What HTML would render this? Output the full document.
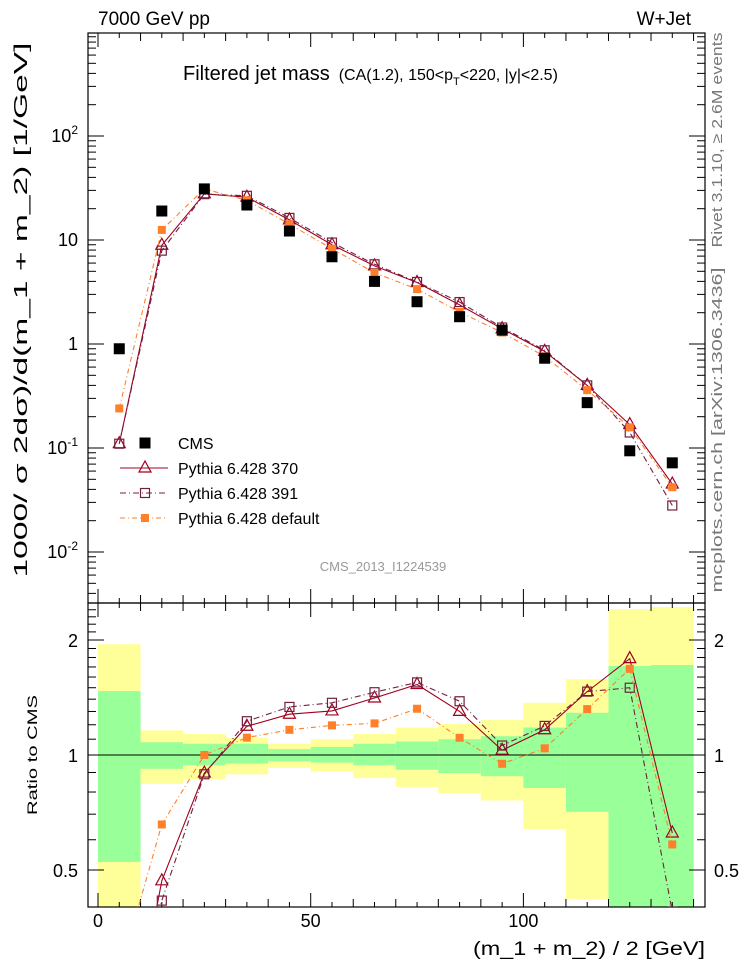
<!DOCTYPE html>
<html><head><meta charset="utf-8"><style>
html,body{margin:0;padding:0;background:#fff;overflow:hidden;width:746px;height:972px;}
svg{display:block;font-family:"Liberation Sans",sans-serif;}
</style></head><body>
<svg id="chart" width="746" height="972" xmlns="http://www.w3.org/2000/svg">
<text x="98" y="25" font-size="19">7000 GeV pp</text>
<text x="691" y="25" font-size="19" text-anchor="end">W+Jet</text>
<text x="183" y="80" font-size="20">Filtered jet mass<tspan font-size="16" dx="9">(CA(1.2), 150&lt;p</tspan><tspan font-size="11" dy="5">T</tspan><tspan font-size="16" dy="-5">&lt;220, |y|&lt;2.5)</tspan></text>
<text transform="translate(27,310) rotate(-90)" font-size="18" text-anchor="middle" textLength="535" lengthAdjust="spacingAndGlyphs">1000/ σ 2dσ)/d(m_1 + m_2) [1/GeV]</text>
<text transform="translate(37,755) rotate(-90)" font-size="14" text-anchor="middle" textLength="120" lengthAdjust="spacingAndGlyphs">Ratio to CMS</text>
<text x="705" y="955" font-size="19" text-anchor="end" textLength="232" lengthAdjust="spacingAndGlyphs">(m_1 + m_2) / 2 [GeV]</text>
<text transform="translate(722,140) rotate(-90)" font-size="15" fill="#777" text-anchor="middle" textLength="215" lengthAdjust="spacingAndGlyphs">Rivet 3.1.10, ≥ 2.6M events</text>
<text transform="translate(722,430) rotate(-90)" font-size="15" fill="#777" text-anchor="middle" textLength="325" lengthAdjust="spacingAndGlyphs">mcplots.cern.ch [arXiv:1306.3436]</text>
<text x="383" y="571" font-size="13" fill="#999" text-anchor="middle">CMS_2013_I1224539</text>
<g id="bands"></g><g id="axes"></g><g id="series"></g><g id="legend"></g>
</svg>
<script>
const binCenters=[5,15,25,35,45,55,65,75,85,95,105,115,125,135];
const cmsValues=[0.9,19,31,21.7,12.2,6.9,4.0,2.55,1.83,1.36,0.73,0.273,0.094,0.072];
const p370Values=[0.11,8.9,27.8,25.8,15.6,9.0,5.64,3.9,2.38,1.40,0.85,0.40,0.168,0.045];
const p391Values=[0.11,7.9,27.6,26.6,16.3,9.45,5.84,3.95,2.53,1.44,0.87,0.40,0.141,0.028];
const pDefValues=[0.24,12.5,31,24.1,14.2,8.25,4.84,3.37,2.03,1.29,0.76,0.36,0.158,0.042];
const bandYellowHi=[1.95,1.16,1.135,1.11,1.07,1.10,1.135,1.18,1.205,1.235,1.37,1.58,2.41,2.44];
const bandGreenHi=[1.47,1.08,1.07,1.07,1.036,1.05,1.07,1.085,1.10,1.12,1.18,1.29,1.71,1.72];
const bandGreenLo=[0.525,0.92,0.94,0.95,0.963,0.955,0.94,0.915,0.897,0.88,0.82,0.71,0.3,0.3];
const bandYellowLo=[0.3,0.84,0.865,0.89,0.925,0.905,0.87,0.825,0.795,0.76,0.64,0.42,0.3,0.3];
const xTickLabels=[0,50,100];
const mainTickExps=[-2,-1,0,1,2];
const mainTickLabels=["10^-2","10^-1","1","10","10^2"];
const ratioTickValues=[0.5,1,2];
const ratioTickLabels=["0.5","1","2"];

const NS="http://www.w3.org/2000/svg";
const L=88,R=705,MT=33,MB=603,RT=603,RB=907;
const X0=98,XS=4.254;
const sx=v=>X0+v*XS;
const sy=v=>344-104*Math.log10(v);
const ry=v=>755-115*Math.log2(v);
function mk(tag,attrs,parent){const e=document.createElementNS(NS,tag);for(const k in attrs)e.setAttribute(k,attrs[k]);parent.appendChild(e);return e;}
const bands=document.getElementById('bands'),axes=document.getElementById('axes'),ser=document.getElementById('series'),leg=document.getElementById('legend');
const clampR=v=>Math.max(RT,Math.min(RB,v));
binCenters.forEach((c,i)=>{
 const x1=sx(c-5),w=sx(c+5)-x1;
 let y1=clampR(ry(bandYellowHi[i])),y2=clampR(ry(bandYellowLo[i]));
 let e=mk('rect',{x:x1,y:y1,width:w,height:y2-y1,fill:'#ffff99'},bands);
 
 
 y1=clampR(ry(bandGreenHi[i]));y2=clampR(ry(bandGreenLo[i]));
 e=mk('rect',{x:x1,y:y1,width:w,height:y2-y1,fill:'#99ff99'},bands);
 
 
});
mk('line',{x1:L,x2:R,y1:ry(1),y2:ry(1),stroke:'#000','stroke-width':1},bands);
[[MT,MB],[RT,RB]].forEach(([t,b])=>{mk('rect',{x:L,y:t,width:R-L,height:b-t,fill:'none',stroke:'#000','stroke-width':1.2},axes);});
for(let v=0;v<=140;v+=5){
 const x=sx(v),len=v%50===0?14:(v%10===0?8:5);
 [[MT,1],[MB,-1],[RT,1],[RB,-1]].forEach(([y,d])=>mk('line',{x1:x,x2:x,y1:y,y2:y+d*len,stroke:'#000'},axes));
}
xTickLabels.forEach(v=>{const t=mk('text',{x:sx(v),y:927,'font-size':18,'text-anchor':'middle'},axes);t.textContent=v;
 
 });
for(let e=-3;e<=3;e++){for(let m=1;m<10;m++){const v=m*Math.pow(10,e),y=sy(v);if(y<MT||y>MB)continue;const len=m===1?16:8;
 mk('line',{x1:L,x2:L+len,y1:y,y2:y,stroke:'#000'},axes);mk('line',{x1:R,x2:R-len,y1:y,y2:y,stroke:'#000'},axes);}}
mainTickExps.forEach((e,i)=>{const y=sy(Math.pow(10,e))+6;const lab=mainTickLabels[i];const t=mk('text',{x:78,y:y,'font-size':18,'text-anchor':'end'},axes);
 if(lab.includes('^')){const [b,p]=lab.split('^');t.textContent=b;const ts=mk('tspan',{'font-size':12,dy:-8},t);ts.textContent=p;}else t.textContent=lab;
 
 });
[0.4,0.5,0.6,0.7,0.8,0.9,1,1.1,1.2,1.3,1.4,1.5,1.6,1.7,1.8,1.9,2,2.1,2.2,2.3,2.4].forEach(v=>{const y=ry(v);if(y<RT||y>RB)return;const len=(v===0.5||v===1||v===2)?16:8;
 mk('line',{x1:L,x2:L+len,y1:y,y2:y,stroke:'#000'},axes);mk('line',{x1:R,x2:R-len,y1:y,y2:y,stroke:'#000'},axes);});
ratioTickValues.forEach((v,i)=>{const y=ry(v)+7;
 let t=mk('text',{x:78,y:y,'font-size':18,'text-anchor':'end'},axes);t.textContent=ratioTickLabels[i];
 
 
 t=mk('text',{x:714,y:y,'font-size':18},axes);t.textContent=ratioTickLabels[i];
 
 });
const clipM=mk('clipPath',{id:'cm'},ser);mk('rect',{x:L,y:MT,width:R-L,height:MB-MT},clipM);
const clipR=mk('clipPath',{id:'cr'},ser);mk('rect',{x:L,y:RT,width:R-L,height:RB-RT},clipR);
const gM=mk('g',{'clip-path':'url(#cm)'},ser),gR=mk('g',{'clip-path':'url(#cr)'},ser);
function marker(g,type,x,y,col){
 if(type==='sq')return mk('rect',{x:x-5.5,y:y-5.5,width:11,height:11,fill:'#000'},g);
 if(type==='fsq')return mk('rect',{x:x-4,y:y-4,width:8,height:8,fill:col},g);
 if(type==='osq')return mk('rect',{x:x-4.5,y:y-4.5,width:9,height:9,fill:'none',stroke:col,'stroke-width':1.2},g);
 return mk('path',{d:`M${x-6},${y+4}L${x+6},${y+4}L${x},${y-7}Z`,fill:'none',stroke:col,'stroke-width':1.2},g);
}
const specs=[
 {vals:p370Values,col:'#a00020',dash:'',m:'tri',name:'pythia-370'},
 {vals:p391Values,col:'#702040',dash:'6,3,1,3',m:'osq',name:'pythia-391'},
 {vals:pDefValues,col:'#ff7f2a',dash:'5,3,1,3',m:'fsq',name:'pythia-default'}];
specs.forEach(s=>{
 const ptsM=binCenters.map((c,i)=>[sx(c),sy(s.vals[i])]);
 const ptsR=binCenters.map((c,i)=>[sx(c),ry(s.vals[i]/cmsValues[i])]);
 [[gM,ptsM],[gR,ptsR]].forEach(([g,pts])=>{
  const pl=mk('polyline',{points:pts.map(p=>p.join(',')).join(' '),fill:'none',stroke:s.col,'stroke-width':1.1,'stroke-dasharray':s.dash},g);
  
  
  pts.forEach(p=>{const e=marker(g,s.m,p[0],p[1],s.col);
   
   });
 });
});
binCenters.forEach((c,i)=>{const e=marker(gM,'sq',sx(c),sy(cmsValues[i]));
 
 });
const legItems=[['CMS','sq','#000',''],['Pythia 6.428 370','tri','#a00020',''],['Pythia 6.428 391','osq','#702040','6,3,1,3'],['Pythia 6.428 default','fsq','#ff7f2a','5,3,1,3']];
legItems.forEach((it,i)=>{const y=443+i*25;
 if(i>0)mk('line',{x1:120,x2:168,y1:y,y2:y,stroke:it[2],'stroke-width':1.1,'stroke-dasharray':it[3]},leg);
 const m=marker(leg,it[1],145,y,it[2]);
 
 
 const t=mk('text',{x:178,y:y+6,'font-size':16},leg);t.textContent=it[0];
 
 
});
</script>
</body></html>
